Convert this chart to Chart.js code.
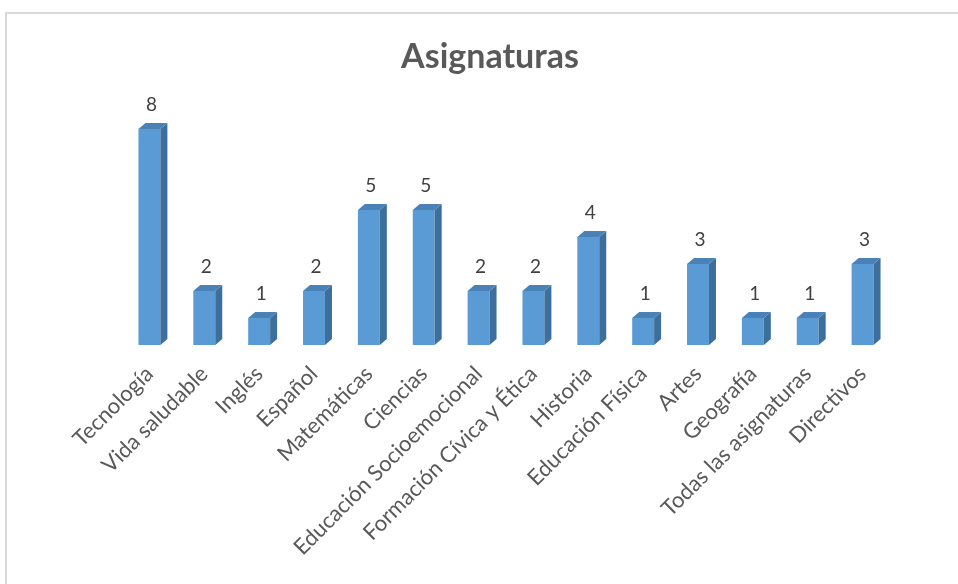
<!DOCTYPE html>
<html>
<head>
<meta charset="utf-8">
<script src="https://cdn.jsdelivr.net/npm/chart.js@4.4.1/dist/chart.umd.min.js"></script>
<style>
html,body{margin:0;padding:0;background:#fff;}
#wrap{position:relative;width:958px;height:584px;}
</style>
</head>
<body>
<div id="wrap"><canvas id="c" width="958" height="584"></canvas></div>
<script>
const chartTitle = "Asignaturas";
const categories = ["Tecnología","Vida saludable","Inglés","Español","Matemáticas","Ciencias","Educación Socioemocional","Formación Cívica y Ética","Historia","Educación Física","Artes","Geografía","Todas las asignaturas","Directivos"];
const values = [8,2,1,2,5,5,2,2,4,1,3,1,1,3];

const FRONT = "#5b9bd5";
const SIDE = "#3d6f9c";
const TOP = "#4a82b8";
const TEXT = "#595959";
const FONT = "Lato, 'Open Sans', sans-serif";

const frame = {
  id: "frame",
  beforeDraw(chart) {
    const ctx = chart.ctx;
    ctx.save();
    ctx.fillStyle = "#fff";
    ctx.fillRect(0, 0, chart.width, chart.height);
    ctx.strokeStyle = "#d9d9d9";
    ctx.lineWidth = 2;
    ctx.strokeRect(6, 13, 2000, 2000);
    ctx.fillStyle = TEXT;
    ctx.font = "bold 34px " + FONT;
    ctx.textAlign = "center";
    ctx.textBaseline = "alphabetic";
    ctx.fillText(chartTitle, 490, 68);
    ctx.restore();
  }
};

const bars3d = {
  id: "bars3d",
  afterDatasetsDraw(chart) {
    const ctx = chart.ctx;
    const meta = chart.getDatasetMeta(0);
    const dx = 7, dy = 6;
    ctx.save();
    meta.data.forEach((bar, i) => {
      const w = bar.width;
      const l = bar.x - w / 2, r = bar.x + w / 2;
      const t = bar.y, b = bar.base;
      ctx.fillStyle = SIDE;
      ctx.beginPath();
      ctx.moveTo(r, t); ctx.lineTo(r + dx, t - dy); ctx.lineTo(r + dx, b - dy); ctx.lineTo(r, b);
      ctx.closePath(); ctx.fill();
      ctx.fillStyle = TOP;
      ctx.beginPath();
      ctx.moveTo(l, t); ctx.lineTo(l + dx, t - dy); ctx.lineTo(r + dx, t - dy); ctx.lineTo(r, t);
      ctx.closePath(); ctx.fill();
      ctx.fillStyle = "#404040";
      ctx.font = "19px " + FONT;
      ctx.textAlign = "center";
      ctx.textBaseline = "middle";
      ctx.fillText(String(values[i]), bar.x + 2, t - 24);
    });
    ctx.restore();
  }
};

new Chart(document.getElementById("c"), {
  type: "bar",
  data: {
    labels: categories,
    datasets: [{
      data: values,
      backgroundColor: FRONT,
      borderWidth: 0,
      categoryPercentage: 1,
      barPercentage: 0.4
    }]
  },
  options: {
    responsive: false,
    animation: false,
    layout: { padding: { left: 122, right: 68, top: 129, bottom: 0 } },
    plugins: { legend: { display: false }, tooltip: { enabled: false }, title: { display: false } },
    scales: {
      x: {
        grid: { display: false, drawTicks: false },
        border: { display: false },
        ticks: {
          autoSkip: false, maxRotation: 45, minRotation: 45,
          padding: 16,
          color: TEXT,
          font: { family: FONT, size: 22 }
        },
        afterFit(scale) {
          scale.height = 239;
          scale.paddingLeft = 0;
          scale.paddingRight = 0;
        }
      },
      y: { display: false, min: 0, max: 8 }
    }
  },
  plugins: [frame, bars3d]
});
</script>
</body>
</html>
